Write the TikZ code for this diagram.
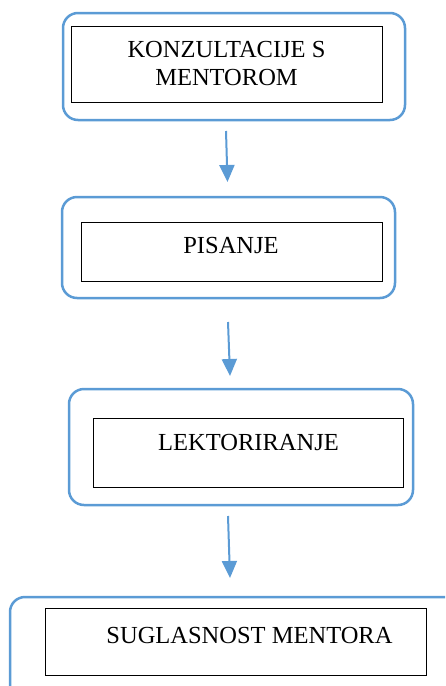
\documentclass[tikz,border=0pt]{standalone}
\usepackage{fontspec}
\setmainfont{Liberation Serif}
\usetikzlibrary{arrows.meta}
\definecolor{accblue}{RGB}{91,155,213}
\tikzset{
  outerbox/.style={draw=accblue, line width=2.5pt, rounded corners=15pt},
  innerbox/.style={draw=black, line width=0.9pt},
  lbl/.style={anchor=base, inner sep=0pt, align=center, font=\fontsize{24.5}{28}\selectfont},
  flow/.style={draw=accblue, line width=2pt, -{Triangle[width=15pt,length=17pt]}}
}
\begin{document}
\begin{tikzpicture}[x=1pt,y=-1pt]
\useasboundingbox (0,0) rectangle (445,686);
\clip (0,0) rectangle (445,686);
% box 1
\draw[outerbox] (63,13) rectangle (405,120);
\node[innerbox, minimum width=311pt, minimum height=76pt, anchor=north west] (in1) at (71,26) {};
\node[lbl] (t1) at (226.5,85) {KONZULTACIJE S\\MENTOROM};
% box 2
\draw[outerbox] (62,197) rectangle (395,298);
\node[innerbox, minimum width=301pt, minimum height=59pt, anchor=north west] (in2) at (81,222) {};
\node[lbl] (t2) at (231,253) {PISANJE};
% box 3
\draw[outerbox] (69,389) rectangle (413,505);
\node[innerbox, minimum width=310pt, minimum height=69pt, anchor=north west] (in3) at (93,418) {};
\node[lbl] (t3) at (248.5,450) {LEKTORIRANJE};
% box 4
\draw[outerbox] (10,597) rectangle (460,700);
\node[innerbox, minimum width=381pt, minimum height=67pt, anchor=north west] (in4) at (45,608) {};
\node[lbl] (t4) at (249.5,643) {SUGLASNOST MENTORA};
% arrows
\coordinate (a1s) at (226,131);
\coordinate (a1e) at (227.5,182);
\coordinate (a2s) at (228,322);
\coordinate (a2e) at (230,376);
\coordinate (a3s) at (228,516);
\coordinate (a3e) at (230,578);
\draw[flow] (a1s) -- (a1e);
\draw[flow] (a2s) -- (a2e);
\draw[flow] (a3s) -- (a3e);
\end{tikzpicture}
\end{document}
